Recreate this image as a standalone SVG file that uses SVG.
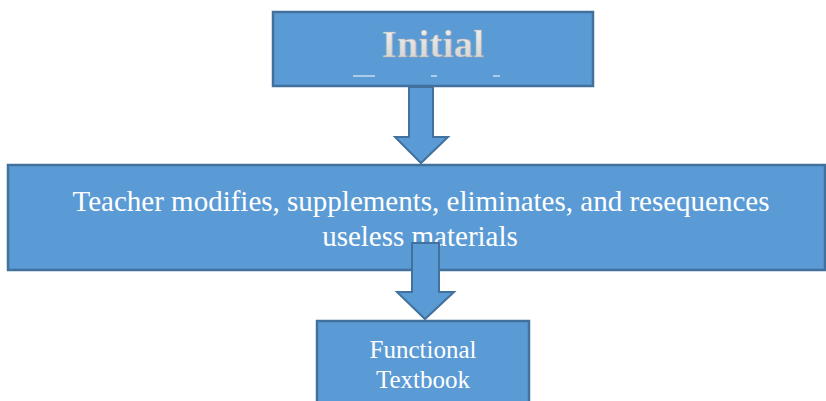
<svg xmlns="http://www.w3.org/2000/svg" width="826" height="401" viewBox="0 0 826 401">
<style>
.box{fill:#5b9bd5;stroke:#41719c;stroke-width:2.5}
.arr{fill:#5b9bd5;stroke:#41719c;stroke-width:2;stroke-linejoin:miter}
.t{font-family:"Liberation Serif","Times New Roman",serif;fill:#ffffff;text-anchor:middle}
.wa{font-family:"Liberation Serif","Times New Roman",serif;font-weight:bold;text-anchor:middle;fill:url(#g);stroke:#a8a8a8;stroke-width:0.5}
.dash{stroke:#e8eef6;stroke-width:1.2}
</style>
<defs>
<linearGradient id="g" x1="0" y1="0" x2="0" y2="1">
<stop offset="0" stop-color="#f4f4f4"/>
<stop offset="1" stop-color="#cfcfcf"/>
</linearGradient>
</defs>
<rect width="826" height="401" fill="#ffffff"/>
<g id="node-initial">
<rect class="box" x="273" y="12" width="320" height="74"/>
<text class="wa" x="433" y="57" font-size="38" letter-spacing="0.5">Initial</text>
<line class="dash" x1="353" y1="76" x2="375" y2="76"/>
<line class="dash" x1="431" y1="76" x2="437" y2="76"/>
<line class="dash" x1="493" y1="76" x2="500" y2="76"/>
</g>
<g id="node-teacher">
<rect class="box" x="8" y="165" width="817" height="105"/>
<text class="t" x="421" y="211" font-size="29">Teacher modifies, supplements, eliminates, and resequences</text>
<text class="t" x="420" y="246" font-size="29">useless materials</text>
</g>
<g id="node-functional">
<rect class="box" x="317" y="321" width="212" height="90"/>
<text class="t" x="423" y="358" font-size="25">Functional</text>
<text class="t" x="423" y="388" font-size="25">Textbook</text>
</g>
<g id="connectors">
<polygon class="arr" points="409,87 433,87 433,137 448,137 421,163 395,137 409,137"/>
<polygon class="arr" points="412,243 439,243 439,292 454,292 425,319 397,292 412,292"/>
</g>
</svg>
